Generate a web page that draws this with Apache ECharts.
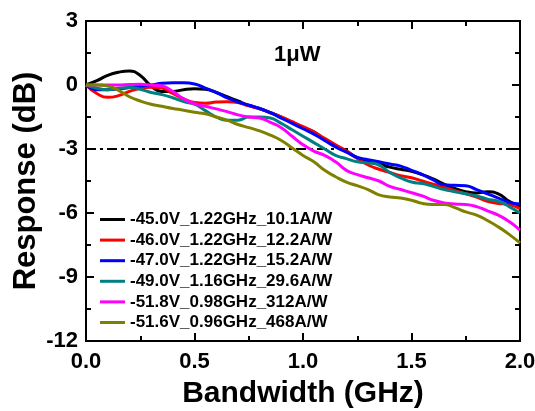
<!DOCTYPE html>
<html><head><meta charset="utf-8">
<script src="https://cdn.jsdelivr.net/npm/echarts@6/dist/echarts.min.js"></script>
<style>html,body{margin:0;padding:0;background:#fff}#c{width:535px;height:411px}</style>
</head><body><div id="c"></div>
<script>
const freq = [0,0.05,0.1,0.15,0.2,0.25,0.3,0.35,0.4,0.45,0.5,0.55,0.6,0.65,0.7,0.75,0.8,0.85,0.9,0.95,1.0,1.05,1.1,1.15,1.2,1.25,1.3,1.35,1.4,1.45,1.5,1.55,1.6,1.65,1.7,1.75,1.8,1.85,1.9,1.95,2.0];
const names = ['-45.0V_1.22GHz_10.1A/W','-46.0V_1.22GHz_12.2A/W','-47.0V_1.22GHz_15.2A/W','-49.0V_1.16GHz_29.6A/W','-51.8V_0.98GHz_312A/W','-51.6V_0.96GHz_468A/W'];
const v45 = [0,0.2,0.45,0.6,0.66,0.45,-0.05,-0.3,-0.3,-0.22,-0.18,-0.2,-0.35,-0.55,-0.75,-0.95,-1.1,-1.3,-1.5,-1.75,-2.0,-2.2,-2.55,-2.85,-3.1,-3.4,-3.6,-3.7,-3.85,-3.95,-4.05,-4.2,-4.4,-4.65,-4.85,-5.0,-5.06,-5.0,-5.1,-5.45,-5.7];
const v46 = [0,-0.4,-0.58,-0.5,-0.3,-0.15,-0.1,-0.14,-0.4,-0.65,-0.82,-0.85,-0.8,-0.78,-0.82,-0.98,-1.12,-1.3,-1.5,-1.72,-1.95,-2.2,-2.5,-2.8,-3.1,-3.45,-3.75,-3.95,-4.1,-4.25,-4.35,-4.5,-4.65,-4.8,-4.95,-5.1,-5.25,-5.45,-5.55,-5.6,-5.8];
const v47 = [0,-0.22,-0.22,-0.18,-0.12,-0.05,0.0,0.08,0.1,0.1,0.05,-0.15,-0.35,-0.6,-0.8,-0.95,-1.1,-1.3,-1.55,-1.8,-2.05,-2.3,-2.6,-2.9,-3.15,-3.4,-3.5,-3.6,-3.7,-3.8,-4.0,-4.2,-4.45,-4.68,-4.7,-4.72,-4.9,-5.1,-5.3,-5.5,-5.58];
const v49 = [0,-0.15,-0.22,-0.15,-0.12,-0.2,-0.35,-0.45,-0.6,-0.78,-0.9,-1.2,-1.5,-1.65,-1.65,-1.5,-1.5,-1.55,-1.8,-2.1,-2.4,-2.7,-3.0,-3.3,-3.45,-3.6,-3.65,-3.75,-4.1,-4.35,-4.55,-4.62,-4.75,-4.9,-5.0,-5.1,-5.2,-5.35,-5.45,-5.7,-6.0];
const v518 = [0,0,0,0,0.02,0.03,0,-0.05,-0.3,-0.65,-0.88,-1.0,-1.12,-1.25,-1.4,-1.5,-1.55,-1.75,-2.0,-2.4,-2.8,-3.1,-3.3,-3.6,-4.0,-4.2,-4.35,-4.5,-4.75,-4.9,-5.05,-5.2,-5.4,-5.53,-5.58,-5.6,-5.7,-5.9,-6.1,-6.4,-6.8];
const v516 = [0,0,-0.05,-0.25,-0.55,-0.75,-0.9,-1.0,-1.1,-1.18,-1.28,-1.35,-1.5,-1.65,-1.85,-2.0,-2.15,-2.35,-2.6,-2.95,-3.3,-3.6,-4.0,-4.3,-4.55,-4.72,-4.9,-5.15,-5.25,-5.3,-5.4,-5.55,-5.6,-5.6,-5.75,-5.95,-6.1,-6.35,-6.65,-7.0,-7.4];
const refLevel = -3;
const xTicks = [0,0.5,1.0,1.5,2.0];
const yTicks = [-12,-9,-6,-3,0,3];
const colors = ['#000000','#ff0000','#0000ff','#008080','#ff00ff','#808000'];
const values = [v45,v46,v47,v49,v518,v516];

const FONT = '"Liberation Sans", Arial, sans-serif';
const xMin = xTicks[0], xMax = xTicks[xTicks.length-1];
const yMin = yTicks[0], yMax = yTicks[yTicks.length-1];
const chart = echarts.init(document.getElementById('c'), null, {renderer:'canvas'});
const series = values.map((v,i)=>({
  name: names[i], type:'line', smooth:0.5, showSymbol:false, symbol:'none',
  xAxisIndex:0, yAxisIndex:0,
  data: freq.map((f,k)=>[f,v[k]]),
  lineStyle:{color:colors[i], width:3}, itemStyle:{color:colors[i]}, z:3
}));
series.push({
  name:'ref', type:'line', showSymbol:false, symbol:'none', silent:true,
  xAxisIndex:0, yAxisIndex:0,
  data:[[xMin,refLevel],[xMax,refLevel]],
  lineStyle:{color:'#000', width:2, type:[10,4,3,4]}, z:2
});
function ax(extra, major){
  return Object.assign({
    type:'value', splitLine:{show:false},
    axisLine:{show:true, onZero:false, lineStyle:{color:'#000', width:2}},
    axisTick:{show:true, inside:true, length: major?8:5, lineStyle:{color:'#000', width:2}},
    axisLabel:{show:false}
  }, extra);
}
const lblX = {show:true, fontFamily:FONT, fontWeight:'bold', fontSize:22, color:'#000', margin:10, formatter:v=>v.toFixed(1)};
const lblY = {show:true, fontFamily:FONT, fontWeight:'bold', fontSize:22, color:'#000', margin:8};
const gridRect = {left:86, right:15, top:21, bottom:70, containLabel:false, outerBoundsMode:'none'};
chart.setOption({
  animation:false,
  backgroundColor:'#fff',
  title:{text:'1\u03bcW', left:269, top:39, textStyle:{fontFamily:FONT, fontWeight:'bold', fontSize:22, color:'#000'}},
  grid:[Object.assign({}, gridRect), Object.assign({}, gridRect)],
  legend:{
    data:names, orient:'vertical', left:95, top:206, itemGap:3.6,
    icon:'rect', itemWidth:25, itemHeight:3,
    textStyle:{fontFamily:FONT, fontWeight:'bold', fontSize:17, lineHeight:17, color:'#000'}
  },
  xAxis:[
    ax({gridIndex:0, min:xMin, max:xMax, interval:0.5, position:'bottom',
      name:'Bandwidth (GHz)', nameLocation:'middle', nameGap:38, nameMoveOverlap:false,
      nameTextStyle:{fontFamily:FONT, fontWeight:'bold', fontSize:30, color:'#000'},
      axisLabel:lblX}, true),
    ax({gridIndex:0, min:xMin, max:xMax, interval:0.5, position:'top'}, true),
    ax({gridIndex:1, min:xMin, max:xMax, interval:0.25, position:'bottom'}, false),
    ax({gridIndex:1, min:xMin, max:xMax, interval:0.25, position:'top'}, false)
  ],
  yAxis:[
    ax({gridIndex:0, min:yMin, max:yMax, interval:3, position:'left',
      name:'Response (dB)', nameLocation:'middle', nameGap:44, nameRotate:90, nameMoveOverlap:false,
      nameTextStyle:{fontFamily:FONT, fontWeight:'bold', fontSize:31, color:'#000'},
      axisLabel:lblY}, true),
    ax({gridIndex:0, min:yMin, max:yMax, interval:3, position:'right'}, true),
    ax({gridIndex:1, min:yMin, max:yMax, interval:1.5, position:'left'}, false),
    ax({gridIndex:1, min:yMin, max:yMax, interval:1.5, position:'right'}, false)
  ],
  series: series
});
</script></body></html>
